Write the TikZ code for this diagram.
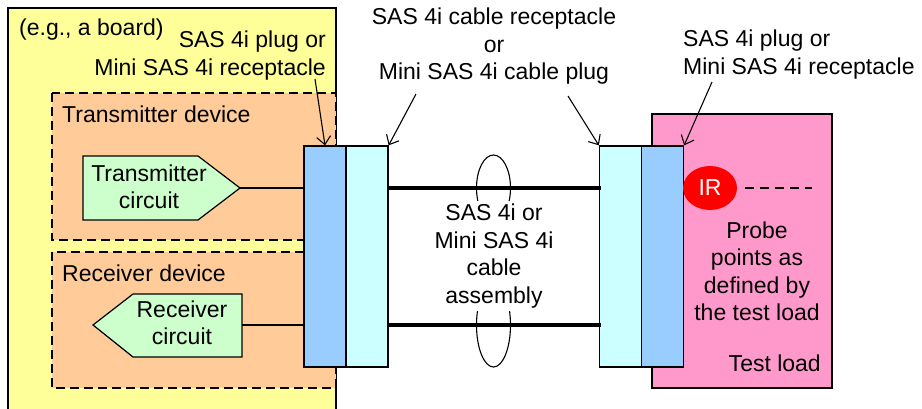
\documentclass[tikz,border=0pt]{standalone}
\usepackage{fontspec}
\setmainfont{Liberation Sans}
\usetikzlibrary{arrows.meta,shapes.geometric}
\definecolor{boardyellow}{HTML}{FFFF99}
\definecolor{devorange}{HTML}{FFCC99}
\definecolor{circgreen}{HTML}{CCFFCC}
\definecolor{plugblue}{HTML}{99CCFF}
\definecolor{rcptcyan}{HTML}{CCFFFF}
\definecolor{loadpink}{HTML}{FF99CC}
\newcommand{\lblfont}{\fontsize{23}{27.5}\selectfont}
\tikzset{
  lbl/.style={font=\lblfont, inner sep=0pt},
  devbox/.style={draw, fill=devorange, line width=1.5pt, dash pattern=on 9pt off 5pt},
  circbox/.style={draw, fill=circgreen, line width=1.2pt},
  connbox/.style={draw, line width=1.3pt, minimum width=42pt, minimum height=221pt, inner sep=0pt},
  callout/.style={line width=1.1pt, -{Straight Barb[length=8pt,width=14pt]}},
  cable/.style={line width=4.5pt},
  wire/.style={line width=1.2pt}
}
\begin{document}
\begin{tikzpicture}[x=1pt,y=-1pt]
\clip (0,0) rectangle (922,408);
\fill[white] (0,0) rectangle (922,408);
% board
\draw[fill=boardyellow, line width=1.5pt] (8,8) rectangle (336,430);
\node[lbl, anchor=west] (board) at (19,30) {(e.g., a board)};
% devices
\draw[devbox] (52,93) rectangle (336,240);
\draw[devbox] (52,252) rectangle (336,388);
\node[lbl, anchor=west] (txdev) at (62,114) {Transmitter device};
\node[lbl, anchor=west] (rxdev) at (62,273) {Receiver device};
% circuits
\draw[circbox] (83,156) -- (198,156) -- (240,188) -- (198,220) -- (83,220) -- cycle;
\coordinate (txtip) at (240,188);
\node[lbl, align=center] (txc) at (149,187) {Transmitter\\circuit};
\draw[circbox] (242,294) -- (133,294) -- (93,325) -- (133,357) -- (242,357) -- cycle;
\coordinate (rxend) at (242,325);
\node[lbl, align=center] (rxc) at (182,323) {Receiver\\circuit};
% left connector
\node[connbox, fill=plugblue] (plugL) at (325,256.5) {};
\node[connbox, fill=rcptcyan] (rcptL) at (367,256.5) {};
\draw[wire] (txtip) -- (txtip -| plugL.west);
\draw[wire] (rxend) -- (rxend -| plugL.west);
% test load
\draw[fill=loadpink, line width=1.3pt] (652,114) rectangle (832,388);
% right connector
\node[connbox, fill=rcptcyan] (rcptR) at (620.5,256.5) {};
\node[connbox, fill=plugblue] (plugR) at (662.5,256.5) {};
% cables
\coordinate (cabtop) at (0,188);
\coordinate (cabbot) at (0,325);
\draw[cable] ([xshift=-2pt]rcptL.east |- cabtop) -- ([xshift=2pt]rcptR.west |- cabtop);
\draw[cable] ([xshift=-2pt]rcptL.east |- cabbot) -- ([xshift=2pt]rcptR.west |- cabbot);
\draw[line width=1.1pt] (493.5,188) ellipse [x radius=17, y radius=33];
\draw[line width=1.1pt] (493.5,325) ellipse [x radius=17, y radius=42];
\node[lbl, align=center, fill=white, inner sep=3pt] (cabletxt) at (494,256) {SAS 4i or\\Mini SAS 4i\\cable\\assembly};
% IR and probe
\node[ellipse, fill=red, minimum width=54pt, minimum height=44pt, inner sep=0pt, text=white, font=\lblfont] (ir) at (710,188) {IR};
\coordinate (probeend) at (812,188);
\draw[line width=1.2pt, dash pattern=on 9pt off 6pt] ([xshift=8pt]ir.east) -- (probeend);
\node[lbl, align=center] (probe) at (757,271.5) {Probe\\points as\\defined by\\the test load};
\node[lbl, anchor=east] (testload) at (821,363) {Test load};
% labels
\node[lbl, align=right, anchor=east] (lblL) at (326,55.5) {SAS 4i plug or\\Mini SAS 4i receptacle};
\node[lbl, align=center] (lblC) at (494,46.5) {SAS 4i cable receptacle\\or\\Mini SAS 4i cable plug};
\node[lbl, align=left, anchor=west] (lblR) at (683,54.5) {SAS 4i plug or\\Mini SAS 4i receptacle};
% callouts
\coordinate (a1) at (315,79);
\coordinate (a2) at (416,94);
\coordinate (a3) at (568,96);
\coordinate (a4) at (712,82);
\draw[callout] (a1) -- (plugL.north);
\draw[callout] (a2) -- (rcptL.north east);
\draw[callout] (a3) -- (rcptR.north west);
\draw[callout] (a4) -- (plugR.north east);
\end{tikzpicture}
\end{document}
